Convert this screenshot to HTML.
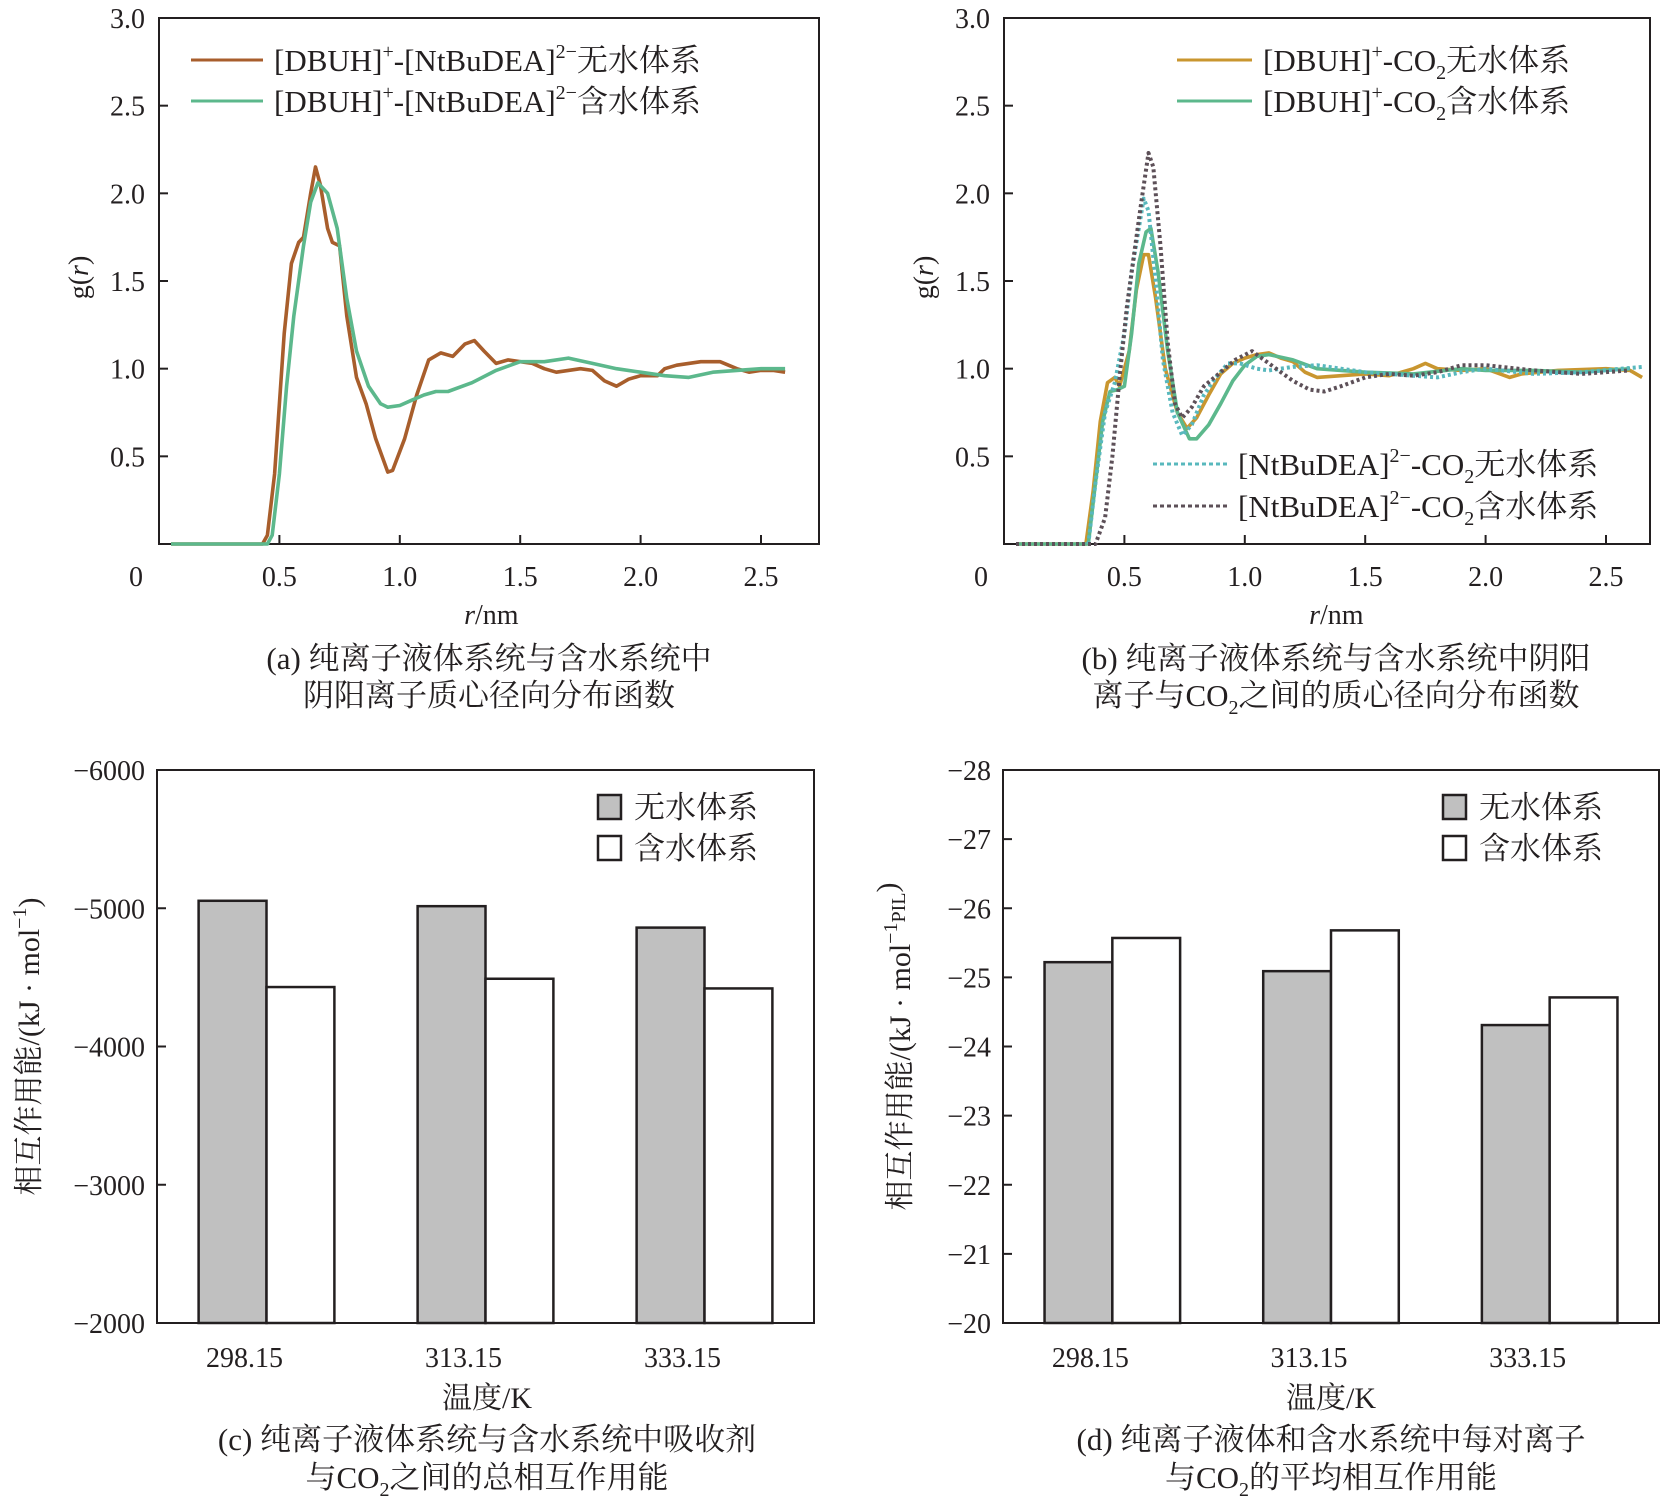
<!DOCTYPE html>
<html><head><meta charset="utf-8">
<style>
body{margin:0;background:#fff;}
svg{display:block;font-family:"Liberation Serif","Noto Serif CJK SC",serif;}
text{fill:#231f20;}
</style></head>
<body>
<svg id="fig" width="1666" height="1504" viewBox="0 0 1666 1504" xmlns="http://www.w3.org/2000/svg"></svg>
<script>
// ---- data: chart (a)
const aDryR=[0.05,0.43,0.45,0.48,0.52,0.55,0.58,0.6,0.63,0.65,0.67,0.7,0.72,0.75,0.78,0.82,0.86,0.9,0.95,0.97,1.02,1.07,1.12,1.17,1.22,1.27,1.31,1.35,1.4,1.45,1.5,1.55,1.6,1.65,1.75,1.8,1.85,1.9,1.95,2.0,2.07,2.1,2.15,2.25,2.33,2.4,2.45,2.5,2.55,2.6];
const aDryG=[0,0,0.05,0.4,1.2,1.6,1.72,1.75,2.0,2.15,2.05,1.8,1.72,1.7,1.3,0.95,0.8,0.6,0.41,0.42,0.6,0.85,1.05,1.09,1.07,1.14,1.16,1.1,1.03,1.05,1.04,1.03,1.0,0.98,1.0,0.99,0.93,0.9,0.94,0.96,0.96,1.0,1.02,1.04,1.04,1.0,0.98,0.99,0.99,0.98];
const aWetR=[0.05,0.45,0.47,0.5,0.53,0.56,0.6,0.63,0.66,0.7,0.74,0.78,0.82,0.87,0.92,0.95,1.0,1.05,1.1,1.15,1.2,1.3,1.4,1.5,1.6,1.7,1.8,1.9,2.0,2.1,2.2,2.3,2.4,2.5,2.6];
const aWetG=[0,0,0.05,0.4,0.9,1.3,1.7,1.95,2.06,2.0,1.8,1.4,1.1,0.9,0.8,0.78,0.79,0.82,0.85,0.87,0.87,0.92,0.99,1.04,1.04,1.06,1.03,1.0,0.98,0.96,0.95,0.98,0.99,1.0,1.0];
// ---- data: chart (b)
const bCatDryR=[0.05,0.34,0.37,0.4,0.43,0.46,0.48,0.52,0.55,0.58,0.6,0.63,0.67,0.72,0.76,0.8,0.85,0.9,0.95,1.0,1.05,1.1,1.15,1.2,1.25,1.3,1.4,1.5,1.6,1.7,1.75,1.8,1.9,2.0,2.1,2.15,2.3,2.5,2.6,2.65];
const bCatDryG=[0,0,0.3,0.7,0.92,0.95,0.9,1.1,1.45,1.65,1.65,1.4,1.0,0.75,0.66,0.72,0.85,0.97,1.03,1.06,1.08,1.09,1.06,1.04,0.98,0.95,0.96,0.97,0.96,1.0,1.03,1.0,0.99,1.0,0.95,0.97,0.99,1.0,0.99,0.95];
const bCatWetR=[0.05,0.35,0.38,0.41,0.44,0.47,0.5,0.53,0.56,0.59,0.61,0.64,0.68,0.72,0.77,0.8,0.85,0.9,0.95,1.0,1.05,1.1,1.2,1.3,1.4,1.5,1.7,1.9,2.0,2.2,2.4,2.6];
const bCatWetG=[0,0,0.35,0.7,0.87,0.88,0.9,1.2,1.6,1.78,1.8,1.55,1.1,0.75,0.6,0.6,0.68,0.8,0.93,1.02,1.07,1.08,1.05,1.0,0.99,0.98,0.97,1.0,0.99,0.99,0.98,1.0];
const bAnDryR=[0.05,0.35,0.38,0.42,0.46,0.5,0.53,0.56,0.58,0.6,0.63,0.66,0.7,0.74,0.78,0.83,0.88,0.93,0.98,1.05,1.1,1.2,1.3,1.4,1.5,1.6,1.7,1.8,1.9,2.0,2.2,2.4,2.65];
const bAnDryG=[0,0,0.35,0.75,0.92,1.2,1.55,1.8,1.97,1.9,1.5,1.05,0.75,0.62,0.68,0.85,0.95,1.03,1.03,1.0,0.99,1.01,1.02,1.0,0.98,0.97,0.96,0.95,0.98,1.0,0.97,0.98,1.01];
const bAnWetR=[0.05,0.38,0.42,0.45,0.48,0.51,0.54,0.57,0.6,0.62,0.65,0.68,0.71,0.74,0.78,0.83,0.9,0.96,1.03,1.08,1.15,1.2,1.27,1.33,1.4,1.5,1.6,1.7,1.8,1.9,2.0,2.2,2.4,2.6];
const bAnWetG=[0,0,0.15,0.5,0.95,1.35,1.65,1.95,2.23,2.15,1.7,1.15,0.8,0.72,0.78,0.9,0.98,1.05,1.1,1.05,0.98,0.93,0.88,0.87,0.9,0.95,0.97,0.96,0.98,1.02,1.02,0.99,0.97,0.99];
// ---- data: charts (c),(d)
const tempCats=["298.15","313.15","333.15"];
const cDry=[-5054,-5015,-4860];
const cWet=[-4430,-4490,-4420];
const cTicks=[-6000,-5000,-4000,-3000,-2000];
const dDry=[-25.22,-25.09,-24.31];
const dWet=[-25.57,-25.68,-24.71];
const dTicks=[-28,-27,-26,-25,-24,-23,-22,-21,-20];
const gTicks=[0.5,1.0,1.5,2.0,2.5,3.0];
const rTicks=[0.5,1.0,1.5,2.0,2.5];

const NS="http://www.w3.org/2000/svg";
const svg=document.getElementById('fig');
function mk(tag,attrs,parent){const e=document.createElementNS(NS,tag);for(const k in attrs)e.setAttribute(k,attrs[k]);(parent||svg).appendChild(e);return e;}
function txt(x,y,s,size,anchor,parent){const t=mk('text',{x:x,y:y,'font-size':size,'text-anchor':anchor||'middle'},parent);t.innerHTML=s;return t;}

function rdfChart(name,left,right,top,bottom){
  const g=mk('g',{});
  
  
  const xs=r=>left+r*240.8, ys=v=>bottom-v*(bottom-top)/3;
  const box=mk('rect',{x:left,y:top,width:right-left,height:bottom-top,fill:'none',stroke:'#231f20','stroke-width':2},g);
  
  
  gTicks.forEach(v=>{mk('line',{x1:left,x2:left+9,y1:ys(v),y2:ys(v),stroke:'#231f20','stroke-width':2},g);
    const t=txt(left-14,ys(v)+10,v.toFixed(1),28,'end',g);
    
    });
  rTicks.forEach(v=>{mk('line',{x1:xs(v),x2:xs(v),y1:bottom,y2:bottom-9,stroke:'#231f20','stroke-width':2},g);
    const t=txt(xs(v),bottom+42,v.toFixed(1),28,'middle',g);
    
    });
  const z=txt(left-23,bottom+42,'0',28,'middle',g);
  
  
  const xt=txt(xs(1.38),bottom+80,'<tspan font-style="italic">r</tspan>/nm',28,'middle',g);
  
  
  const yt=txt(0,0,'g(<tspan font-style="italic">r</tspan>)',28,'middle',g);
  yt.setAttribute('transform','translate('+(left-71)+','+ys(1.52)+') rotate(-90)');
  
  
  return {g,xs,ys};
}
function series(ch,R,G,color,dash,name){
  const d=R.map((r,i)=>(i?'L':'M')+ch.xs(r).toFixed(1)+','+ch.ys(G[i]).toFixed(1)).join(' ');
  const p=mk('path',{d:d,fill:'none',stroke:color,'stroke-width':dash?4:3.6,'stroke-linejoin':'round','stroke-dasharray':dash||'none'},ch.g);
  
  
}
function legLine(g,x1,x2,y,color,dash,label,name){
  const l=mk('line',{x1:x1,x2:x2,y1:y,y2:y,stroke:color,'stroke-width':3,'stroke-dasharray':dash||'none'},g);
  
  
  const t=txt(x2+11,y+11,label,31,'start',g);
  
  
}
const BROWN='#a85e2c',GREEN='#5cb88c',ORANGE='#c9962f',CYAN='#58b8bd',DGRAY='#5d5058';
const sup=s=>'<tspan dy="-13" font-size="20">'+s+'</tspan><tspan dy="13">';
const sub=s=>'<tspan dy="8" font-size="20">'+s+'</tspan><tspan dy="-8">';

// chart a
const A=rdfChart('chart-a-rdf',159,819,18,544);
series(A,aDryR,aDryG,BROWN,null,'series-a-dry');
series(A,aWetR,aWetG,GREEN,null,'series-a-wet');
legLine(A.g,191,263,60,BROWN,null,'[DBUH]'+sup('+')+'-[NtBuDEA]'+sup('2−')+'无水体系</tspan></tspan>','legend-a-dry');
legLine(A.g,191,263,101,GREEN,null,'[DBUH]'+sup('+')+'-[NtBuDEA]'+sup('2−')+'含水体系</tspan></tspan>','legend-a-wet');
let c1=txt(489,669,'(a) 纯离子液体系统与含水系统中',31,'middle');


let c2=txt(489,706,'阴阳离子质心径向分布函数',31,'middle');



// chart b
const B=rdfChart('chart-b-rdf',1004,1650,18,544);
series(B,bCatDryR,bCatDryG,ORANGE,null,'series-b-cation-dry');
series(B,bCatWetR,bCatWetG,GREEN,null,'series-b-cation-wet');
series(B,bAnDryR,bAnDryG,CYAN,'3 3','series-b-anion-dry');
series(B,bAnWetR,bAnWetG,DGRAY,'3 3','series-b-anion-wet');
legLine(B.g,1177,1252,60,ORANGE,null,'[DBUH]'+sup('+')+'-CO'+sub('2')+'无水体系</tspan></tspan></tspan></tspan>','legend-b-cation-dry');
legLine(B.g,1177,1252,101,GREEN,null,'[DBUH]'+sup('+')+'-CO'+sub('2')+'含水体系</tspan></tspan></tspan></tspan>','legend-b-cation-wet');
legLine(B.g,1153,1227,464,CYAN,'4 3','[NtBuDEA]'+sup('2−')+'-CO'+sub('2')+'无水体系</tspan></tspan></tspan></tspan>','legend-b-anion-dry');
legLine(B.g,1153,1227,506,DGRAY,'4 3','[NtBuDEA]'+sup('2−')+'-CO'+sub('2')+'含水体系</tspan></tspan></tspan></tspan>','legend-b-anion-wet');
c1=txt(1336,669,'(b) 纯离子液体系统与含水系统中阴阳',31,'middle');


c2=txt(1336,706,'离子与CO'+sub('2')+'之间的质心径向分布函数</tspan>',31,'middle');



// bar charts
function barChart(name,left,right,top,bottom,ticks,dry,wet,lo,hi,fmt,ytitle,yOff,cx,cap1,cap2){
  const g=mk('g',{});
  
  
  const ys=v=>bottom-(v-lo)/(hi-lo)*(bottom-top);
  const band=(right-left)/tempCats.length, bw=band*0.31;
  const box=mk('rect',{x:left,y:top,width:right-left,height:bottom-top,fill:'none',stroke:'#231f20','stroke-width':2},g);
  
  
  ticks.forEach(v=>{mk('line',{x1:left,x2:left+9,y1:ys(v),y2:ys(v),stroke:'#231f20','stroke-width':2},g);
    const t=txt(left-12,ys(v)+10,fmt(v),28,'end',g);
    
    });
  tempCats.forEach((c,i)=>{
    const cxm=left+band*(i+0.5);
    const r1=mk('rect',{x:cxm-bw,y:ys(dry[i]),width:bw,height:bottom-ys(dry[i]),fill:'#c0c0c0',stroke:'#231f20','stroke-width':2.5},g);
    
    
    const r2=mk('rect',{x:cxm,y:ys(wet[i]),width:bw,height:bottom-ys(wet[i]),fill:'#fff',stroke:'#231f20','stroke-width':2.5},g);
    
    
    const t=txt(cxm-22,bottom+44,c,28,'middle',g);
    
    
  });
  const lx=right-216;
  const s1=mk('rect',{x:lx,y:795,width:23,height:24,fill:'#c0c0c0',stroke:'#231f20','stroke-width':2.5},g);
  
  
  const l1=txt(lx+36,818,'无水体系',31,'start',g);
  
  
  const s2=mk('rect',{x:lx,y:836,width:23,height:24,fill:'#fff',stroke:'#231f20','stroke-width':2.5},g);
  
  
  const l2=txt(lx+36,859,'含水体系',31,'start',g);
  
  
  const xt=txt(cx,1408,'温度/K',30,'middle',g);
  
  
  const yt=txt(0,0,ytitle,30,'middle',g);
  yt.setAttribute('transform','translate('+(left-yOff)+','+(top+bottom)/2+') rotate(-90)');
  
  
  const a=txt(cx,1450,cap1,31,'middle',g);
  
  
  const b=txt(cx,1488,cap2,31,'middle',g);
  
  
}
barChart('chart-c-total-energy',157,814,770,1323,cTicks,cDry,cWet,-2000,-6000,v=>'−'+Math.abs(v),
  '相互作用能/(kJ · mol'+sup('−1')+')</tspan>',118,487,'(c) 纯离子液体系统与含水系统中吸收剂','与CO'+sub('2')+'之间的总相互作用能</tspan>');
barChart('chart-d-avg-energy',1003,1659,770,1323,dTicks,dDry,dWet,-20,-28,v=>'−'+Math.abs(v),
  '相互作用能/(kJ · mol'+sup('−1')+'</tspan><tspan dy="8" font-size="20">PIL</tspan><tspan dy="-8">)</tspan>',93,1331,'(d) 纯离子液体和含水系统中每对离子','与CO'+sub('2')+'的平均相互作用能</tspan>');
</script>
</body></html>
